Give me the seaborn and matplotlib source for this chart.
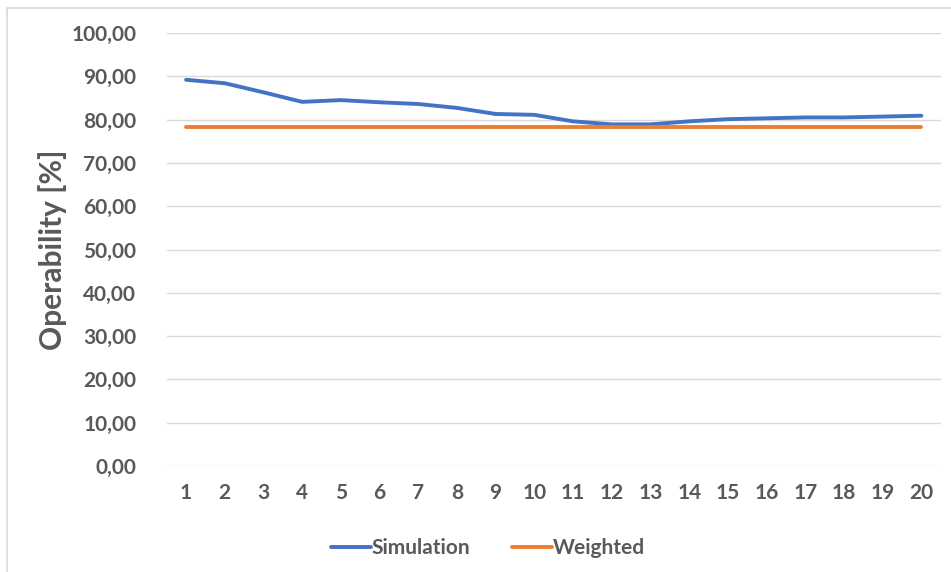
import pandas as pd
import numpy as np
import seaborn as sns
import matplotlib.pyplot as plt
from matplotlib.ticker import FuncFormatter, MultipleLocator
from matplotlib.patches import Rectangle

# values
runs = list(range(1, 21))
simulation = [89.2, 88.4, 86.3, 84.1, 84.5, 84.0, 83.6, 82.7, 81.3, 81.1,
              79.6, 78.9, 78.9, 79.6, 80.1, 80.3, 80.5, 80.5, 80.7, 80.9]
weighted = [78.3] * 20

df = pd.DataFrame({
    'Run': runs * 2,
    'Operability': simulation + weighted,
    'Series': ['Simulation'] * 20 + ['Weighted'] * 20,
})

sns.set_style("white")
plt.rcParams['font.family'] = ['Lato', 'DejaVu Sans']
grey = '#595959'

fig = plt.figure(figsize=(9.51, 5.72), dpi=100)
ax = fig.add_axes([0.1753, 0.1853, 0.8139, 0.757])
sns.lineplot(data=df, x='Run', y='Operability', hue='Series',
             palette=['#4472C4', '#ED7D31'], linewidth=2.8, ax=ax, legend=True)

ax.set_xlim(0.5, 20.5)
ax.set_ylim(0, 100)
ax.yaxis.set_major_locator(MultipleLocator(10))
ax.yaxis.set_major_formatter(FuncFormatter(lambda v, p: f"{v:.2f}".replace('.', ',')))
ax.set_xticks(runs)
ax.grid(axis='y', color='#d9d9d9', linewidth=1)
for s in ax.spines.values():
    s.set_visible(False)
ax.tick_params(length=0, labelsize=15, colors=grey, pad=22)
ax.tick_params(axis='x', pad=12)
for lbl in ax.get_xticklabels() + ax.get_yticklabels():
    lbl.set_fontweight('bold')
ax.set_xlabel('')
ax.set_ylabel('Operability [%]', fontsize=21.5, fontweight='bold', color=grey, labelpad=3)

h, l = ax.get_legend_handles_labels()
leg = ax.legend(h, l, loc='center', bbox_to_anchor=(0.415, -0.19), ncol=2, frameon=False,
                handlelength=1.9, handletextpad=0.05, columnspacing=2.0,
                prop={'size': 15, 'weight': 'bold'})
for t in leg.get_texts():
    t.set_color(grey)

# chart frame
fig.patches.append(Rectangle((7 / 951, -0.05), 1.2, 1 - 8 / 572 + 0.05, transform=fig.transFigure,
                             fill=False, edgecolor='#d9d9d9', linewidth=1.2))

plt.savefig("out.png", dpi=100)
